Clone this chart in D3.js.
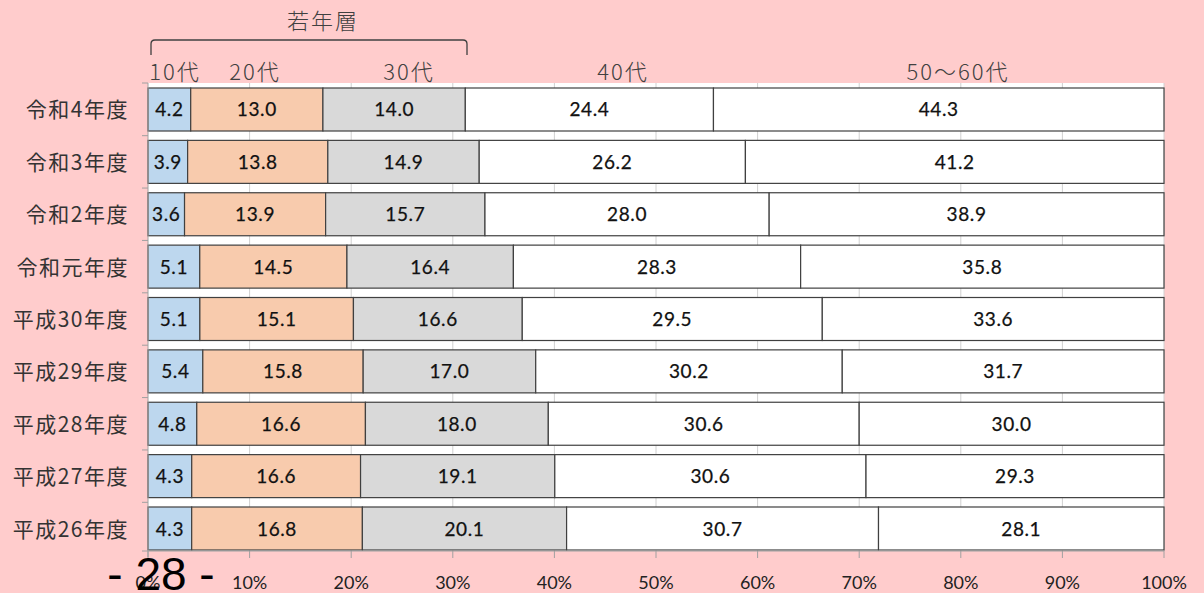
<!DOCTYPE html>
<html>
<head>
<meta charset="utf-8">
<script src="https://cdn.jsdelivr.net/npm/d3@7"></script>
<style>
  body { margin: 0; background: #ffcccc; }
  svg { display: block; }
</style>
</head>
<body>
<div id="chart"></div>
<script>
// data
var years = ['令和4年度', '令和3年度', '令和2年度', '令和元年度', '平成30年度', '平成29年度', '平成28年度', '平成27年度', '平成26年度'];
var ageGroups = ['10代', '20代', '30代', '40代', '50～60代'];
var teens    = [4.2, 3.9, 3.6, 5.1, 5.1, 5.4, 4.8, 4.3, 4.3];
var twenties = [13.0, 13.8, 13.9, 14.5, 15.1, 15.8, 16.6, 16.6, 16.8];
var thirties = [14.0, 14.9, 15.7, 16.4, 16.6, 17.0, 18.0, 19.1, 20.1];
var forties  = [24.4, 26.2, 28.0, 28.3, 29.5, 30.2, 30.6, 30.6, 30.7];
var fiftySixty = [44.3, 41.2, 38.9, 35.8, 33.6, 31.7, 30.0, 29.3, 28.1];
var xTicks = [0, 10, 20, 30, 40, 50, 60, 70, 80, 90, 100];

var series = [teens, twenties, thirties, forties, fiftySixty];
var colors = ['#bdd7ee', '#f8cbad', '#d9d9d9', '#ffffff', '#ffffff'];

var W = 1204, H = 593;
var plot = {left: 148, right: 1164, top: 83, bottom: 551};

var svg = d3.select('#chart').append('svg')
  .attr('width', W)
  .attr('height', H);

var x = d3.scaleLinear().domain([0, 100]).range([plot.left, plot.right]);
var y = d3.scaleBand().domain(years).range([88, 550]).paddingInner(0.179).paddingOuter(0);

// plot background
svg.append('rect')
  .attr('x', plot.left).attr('y', plot.top)
  .attr('width', plot.right - plot.left).attr('height', plot.bottom - plot.top)
  .attr('fill', '#ffffff');

// gridlines
svg.selectAll('line.grid')
  .data(xTicks.slice(1))
  .enter().append('line')
  .attr('class', 'grid')
  .attr('x1', function(d) { return x(d); })
  .attr('x2', function(d) { return x(d); })
  .attr('y1', plot.top)
  .attr('y2', plot.bottom)
  .attr('stroke', '#d0d0d0')
  .attr('stroke-width', 1);

// stacked rows, normalised to 100%
var rows = years.map(function(yr, i) {
  var total = d3.sum(series, function(s) { return s[i]; });
  var acc = 0;
  return series.map(function(s, k) {
    var seg = {year: yr, k: k, v: s[i], x0: acc / total * 100};
    acc += s[i];
    seg.x1 = acc / total * 100;
    return seg;
  });
});
var segs = d3.merge(rows);

svg.selectAll('rect.seg')
  .data(segs)
  .enter().append('rect')
  .attr('class', 'seg')
  .attr('x', function(d) { return x(d.x0); })
  .attr('y', function(d) { return y(d.year); })
  .attr('width', function(d) { return x(d.x1) - x(d.x0); })
  .attr('height', y.bandwidth())
  .attr('fill', function(d) { return colors[d.k]; })
  .attr('stroke', '#404040')
  .attr('stroke-width', 1.2);

svg.selectAll('text.val')
  .data(segs)
  .enter().append('text')
  .attr('class', 'val')
  .attr('x', function(d) { return (x(d.x0) + x(d.x1)) / 2; })
  .attr('y', function(d) { return y(d.year) + y.bandwidth() / 2 + 7; })
  .attr('text-anchor', 'middle')
  .attr('font-family', 'Lato, sans-serif')
  .attr('font-size', 19)
  .attr('letter-spacing', 0.6)
  .attr('fill', '#111')
  .attr('stroke', '#111')
  .attr('stroke-width', 0.25)
  .text(function(d) { return d.v.toFixed(1); });

// left axis
svg.append('line')
  .attr('x1', plot.left).attr('x2', plot.left)
  .attr('y1', plot.top).attr('y2', plot.bottom + 6)
  .attr('stroke', '#a0a0a0');
var bounds = d3.range(years.length + 1).map(function(i) {
  return i === 0 ? plot.top : (i === years.length ? plot.bottom : y(years[i]) - y.step() * y.paddingInner() / 2);
});
svg.selectAll('line.ytick')
  .data(bounds)
  .enter().append('line')
  .attr('class', 'ytick')
  .attr('x1', plot.left - 6).attr('x2', plot.left)
  .attr('y1', function(d) { return d; })
  .attr('y2', function(d) { return d; })
  .attr('stroke', '#a0a0a0');

svg.selectAll('text.ylab')
  .data(years)
  .enter().append('text')
  .attr('class', 'ylab')
  .attr('x', 129)
  .attr('y', function(d) { return y(d) + y.bandwidth() / 2 + 8; })
  .attr('text-anchor', 'end')
  .attr('font-family', '"Noto Sans CJK JP", sans-serif')
  .attr('font-size', 21)
  .attr('letter-spacing', 1.5)
  .attr('fill', '#333')
  .text(function(d) { return d; });

// bottom axis
svg.append('line')
  .attr('x1', plot.left).attr('x2', plot.right)
  .attr('y1', plot.bottom).attr('y2', plot.bottom)
  .attr('stroke', '#a0a0a0');
svg.selectAll('line.xtick')
  .data(xTicks)
  .enter().append('line')
  .attr('class', 'xtick')
  .attr('x1', function(d) { return x(d); })
  .attr('x2', function(d) { return x(d); })
  .attr('y1', plot.bottom).attr('y2', plot.bottom + 7)
  .attr('stroke', '#a0a0a0');
svg.selectAll('text.xlab')
  .data(xTicks)
  .enter().append('text')
  .attr('class', 'xlab')
  .attr('x', function(d) { return x(d); })
  .attr('y', 589)
  .attr('text-anchor', 'middle')
  .attr('font-family', 'Lato, sans-serif')
  .attr('font-size', 18)
  .attr('fill', '#222')
  .text(function(d) { return d + '%'; });

// age group header labels
var headerX = [175, 255, 409, 623, 958];
svg.selectAll('text.age')
  .data(ageGroups)
  .enter().append('text')
  .attr('class', 'age')
  .attr('x', function(d, i) { return headerX[i]; })
  .attr('y', 80)
  .attr('text-anchor', 'middle')
  .attr('font-family', '"Noto Sans CJK JP", sans-serif')
  .attr('font-weight', 300)
  .attr('font-size', 22)
  .attr('letter-spacing', 2)
  .attr('fill', '#404040')
  .text(function(d) { return d; });

// bracket for 若年層
var bx0 = 151, bx1 = 467, by0 = 40, by1 = 55, r = 4;
svg.append('path')
  .attr('d', 'M' + bx0 + ',' + by1 + ' L' + bx0 + ',' + (by0 + r) +
    ' Q' + bx0 + ',' + by0 + ' ' + (bx0 + r) + ',' + by0 +
    ' L' + (bx1 - r) + ',' + by0 +
    ' Q' + bx1 + ',' + by0 + ' ' + bx1 + ',' + (by0 + r) +
    ' L' + bx1 + ',' + by1)
  .attr('fill', 'none')
  .attr('stroke', '#404040')
  .attr('stroke-width', 1.3);
svg.append('text')
  .attr('x', 323).attr('y', 29)
  .attr('text-anchor', 'middle')
  .attr('font-family', '"Noto Sans CJK JP", sans-serif')
  .attr('font-weight', 300)
  .attr('font-size', 22)
  .attr('letter-spacing', 2)
  .attr('fill', '#404040')
  .text('若年層');

// page number overlay
svg.append('text')
  .attr('x', 161).attr('y', 590)
  .attr('text-anchor', 'middle')
  .attr('font-family', '"Liberation Sans", Arial, sans-serif')
  .attr('font-size', 46)
  .attr('fill', '#000')
  .text('- 28 -');
</script>
</body>
</html>
